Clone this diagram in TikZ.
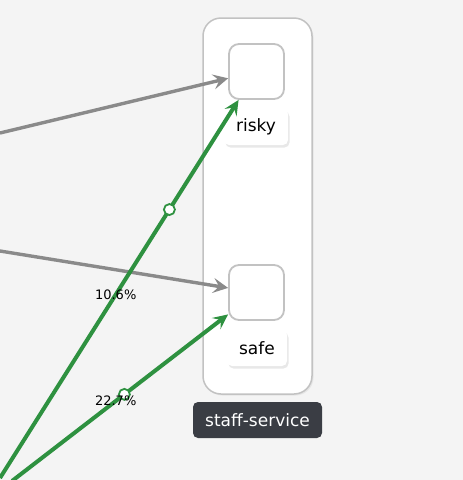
\documentclass[tikz,border=0pt]{standalone}
\usepackage{fontspec}
\setmainfont{DejaVu Sans}
\usetikzlibrary{arrows.meta,shadows}

\definecolor{bggray}{HTML}{F4F4F4}
\definecolor{rimgray}{HTML}{C2C2C2}
\definecolor{flowgray}{HTML}{8A8A8A}
\definecolor{flowgreen}{HTML}{2E9140}
\definecolor{tagdark}{HTML}{3A3D44}

\tikzset{
    svcbox/.style={draw=rimgray, line width=1.5pt, fill=white, rounded corners=18pt,
        minimum width=109pt, minimum height=376pt, inner sep=0pt},
    podbox/.style={draw=rimgray, line width=1.8pt, fill=white, rounded corners=10pt,
        minimum width=55pt, minimum height=55pt, inner sep=0pt},
    podtag/.style={fill=white, rounded corners=5pt, minimum height=36pt, inner sep=0pt,
        font=\fontsize{17}{20}\selectfont,
        drop shadow={shadow xshift=1.5pt, shadow yshift=-2.5pt, opacity=0.18}},
    svctag/.style={fill=tagdark, text=white, rounded corners=5pt, minimum width=129pt,
        minimum height=36pt, inner sep=0pt, font=\fontsize{17}{20}\selectfont},
    grayflow/.style={draw=flowgray, line width=3.4pt, -{Stealth[length=15pt,width=15pt,inset=6pt]}},
    greenflow/.style={draw=flowgreen, line width=4pt, -{Stealth[length=15pt,width=14pt,inset=6pt]}},
    dot/.style={circle, draw=flowgreen, line width=1.8pt, fill=white, minimum size=11pt, inner sep=0pt},
    pct/.style={font=\fontsize{13}{15}\selectfont, inner sep=0pt}
}

\begin{document}
\begin{tikzpicture}[x=1pt, y=-1pt]
    % Background
    \fill[bggray] (0,0) rectangle (463,480);
    \useasboundingbox (0,0) rectangle (463,480);
    % Service container
    \node[svcbox, drop shadow={shadow xshift=1.5pt, shadow yshift=-1.5pt, opacity=0.12}] (staff) at (257.5,206) {};
    % Pods
    \node[podbox] (risky) at (256.5,71.5) {};
    \node[podbox] (safe) at (256.5,292.5) {};
    \node[podtag, minimum width=64pt] (riskytag) at (256,127) {risky};
    \node[podtag, minimum width=60pt] (safetag) at (257,348) {safe};
    \node[svctag] (stafftag) at (257.5,420) {staff-service};
    % Loose ends of the incoming flows
    \coordinate (ing1) at (0,133);
    \coordinate (ing2) at (0,251);
    \coordinate (ing3) at (0,478);
    \coordinate (ing4) at (12,481);
    % Gray flows
    \draw[grayflow] (ing1) -- (risky);
    \draw[grayflow] (ing2) -- (safe);
    % Green flows
    \draw[greenflow] (ing3) -- (risky)
        node[dot, pos=0.71] (dotrisky) {}
        node[pct, pos=0.485] (pctrisky) {10.6\%};
    \draw[greenflow] (ing4) -- (safe)
        node[dot, pos=0.52] (dotsafe) {}
        node[pct, pos=0.48] (pctsafe) {22.7\%};
\end{tikzpicture}
\end{document}
